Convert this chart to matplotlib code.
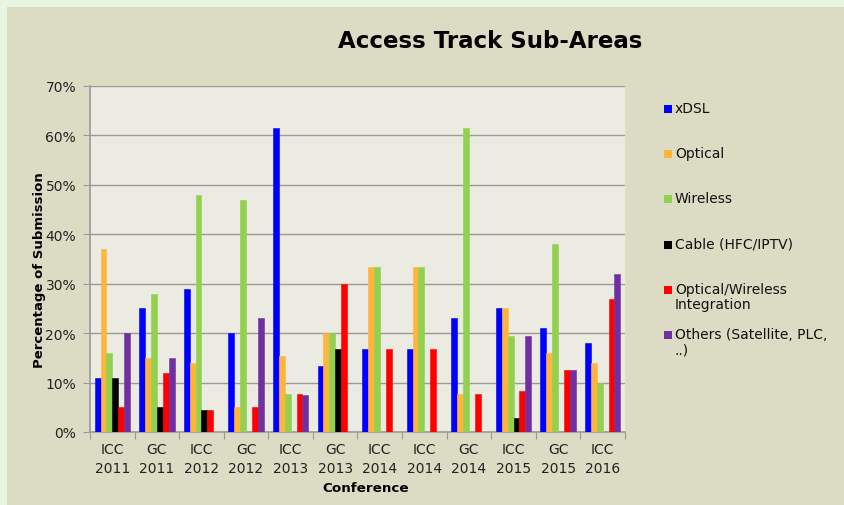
#!/usr/bin/env python3
"""
Access track sub-areas: grouped bar chart per conference
"""
import numpy as np
import matplotlib
matplotlib.use("Agg")
import matplotlib.pyplot as plt
from matplotlib.patches import Rectangle

# ---------------------------------------------------------------------------
# Data (percent of submissions)
# ---------------------------------------------------------------------------
conferences = ["ICC\n2011", "GC\n2011", "ICC\n2012", "GC\n2012", "ICC\n2013",
               "GC\n2013", "ICC\n2014", "ICC\n2014", "GC\n2014", "ICC\n2015",
               "GC\n2015", "ICC\n2016"]

xdsl = [11, 25, 29, 20, 61.5, 13.3, 16.7, 16.7, 23.1, 25, 21, 18]
optical = [37, 15, 14, 5, 15.4, 20, 33.3, 33.3, 7.7, 25, 16, 14]
wireless = [16, 28, 48, 47, 7.7, 20, 33.3, 33.3, 61.5, 19.4, 38, 10]
cable = [11, 5, 4.4, 0, 0, 16.7, 0, 0, 0, 2.8, 0, 0]
opt_wireless = [5, 12, 4.4, 5, 7.7, 30, 16.7, 16.7, 7.7, 8.3, 12.5, 27]
others = [20, 15, 0, 23, 7.5, 0, 0, 0, 0, 19.4, 12.5, 32]

series_names = ["xDSL", "Optical", "Wireless", "Cable (HFC/IPTV)",
                "Optical/Wireless\nIntegration", "Others (Satellite, PLC,\n..)"]
series_values = [xdsl, optical, wireless, cable, opt_wireless, others]
series_colors = ["#0000ff", "#ffb43c", "#92d050", "#000000", "#ff0000", "#7030a0"]

# ---------------------------------------------------------------------------
# Style
# ---------------------------------------------------------------------------
OUTER_BG = "#e6f6e2"
CHART_BG = "#dcdcc4"
PLOT_BG = "#ebebe1"
GRID = "#9a9a9a"

W, H = 845, 506
fig = plt.figure(figsize=(W / 100, H / 100), dpi=100)
fig.patch.set_facecolor(OUTER_BG)

# chart panel (behind the axes)
fig.patches.append(Rectangle((7 / W, 0), 1 - 7 / W, 1 - 8 / H,
                             transform=fig.transFigure, facecolor=CHART_BG,
                             edgecolor="none", zorder=-10))

ax = fig.add_axes([90 / W, 1 - 433 / H, 535 / W, 346 / H])
ax.set_facecolor(PLOT_BG)

n = len(conferences)
x = np.arange(n)
bw = 0.132
for k, (vals, col) in enumerate(zip(series_values, series_colors)):
    offs = (k - 2.5) * bw
    ax.bar(x + offs, vals, width=bw, color=col, edgecolor=col,
           linewidth=0.4, zorder=3)

ax.set_xlim(-0.5, n - 0.5)
ax.set_ylim(0, 70)
ax.set_yticks(np.arange(0, 71, 10))
ax.set_yticklabels([f"{v}%" for v in range(0, 71, 10)], fontsize=10,
                   color="#222222")
ax.yaxis.grid(True, color=GRID, linewidth=1.0, zorder=1)
ax.set_axisbelow(True)

# categories between tick marks
ax.set_xticks(np.arange(-0.5, n, 1.0))
ax.set_xticklabels([])
ax.set_xticks(x, minor=True)
ax.set_xticklabels(conferences, minor=True, fontsize=10, color="#222222",
                   linespacing=1.45)
ax.tick_params(axis="x", which="minor", length=0, pad=7)
ax.tick_params(axis="x", which="major", length=5, color=GRID, direction="out")
ax.tick_params(axis="y", length=5, color=GRID, direction="out", pad=5)

for side in ("top", "right"):
    ax.spines[side].set_visible(False)
for side in ("left", "bottom"):
    ax.spines[side].set_color(GRID)
    ax.spines[side].set_linewidth(1.2)

ax.set_ylabel("Percentage of Submission", fontsize=9.5, fontweight="bold")
ax.yaxis.set_label_coords(-44 / 535, 0.47)
ax.set_xlabel("Conference", fontsize=9.7, fontweight="bold")
ax.xaxis.set_label_coords(0.515, -49 / 346)

fig.text(490 / W, 1 - 42 / H, "Access Track Sub-Areas", fontsize=16.5,
         fontweight="bold", ha="center", va="center")

# legend, drawn by hand so the swatch sits on the first text line
leg_x, leg_y0, leg_step = 664 / W, 110, 45.2
for i, (name, col) in enumerate(zip(series_names, series_colors)):
    yc = 1 - (leg_y0 + i * leg_step) / H
    fig.patches.append(Rectangle((leg_x, yc - 4 / H), 8 / W, 8 / H,
                                 transform=fig.transFigure, facecolor=col,
                                 edgecolor="none", zorder=5))
    fig.text(leg_x + 11 / W, yc + 8 / H, name, fontsize=10, va="top",
             ha="left", linespacing=1.1, color="#111111")

fig.savefig("out.png", dpi=100, facecolor=fig.get_facecolor())
